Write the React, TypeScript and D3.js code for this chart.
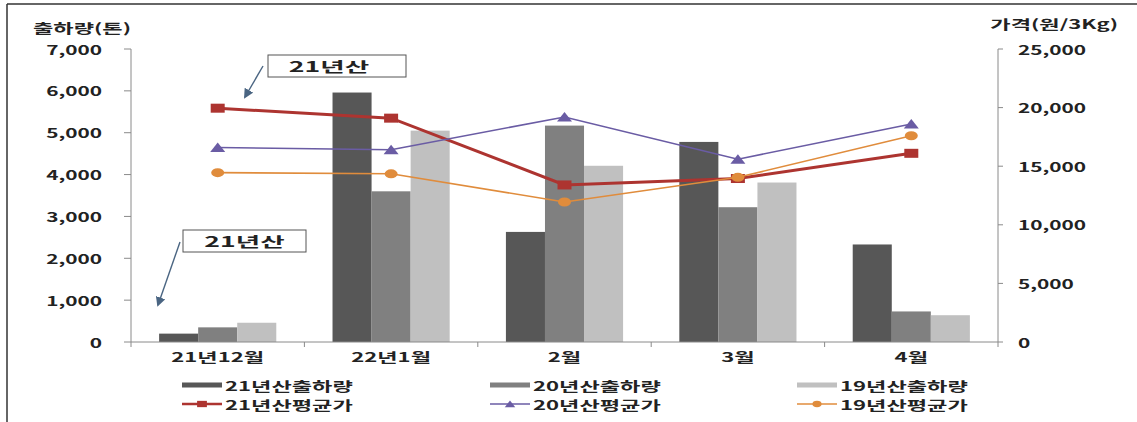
import React from "react";
import * as d3 from "d3";

const categories = ["21년12월", "22년1월", "2월", "3월", "4월"];
const ship21 = [200, 5960, 2630, 4780, 2330];
const ship20 = [350, 3600, 5170, 3220, 730];
const ship19 = [460, 5050, 4210, 3810, 640];
const price21 = [19950, 19100, 13400, 13950, 16100];
const price20 = [16600, 16400, 19200, 15600, 18600];
const price19 = [14450, 14350, 11950, 14050, 17600];
const leftTicks = [0, 1000, 2000, 3000, 4000, 5000, 6000, 7000];
const rightTicks = [0, 5000, 10000, 15000, 20000, 25000];
const barSeries = ["21년산출하량", "20년산출하량", "19년산출하량"];
const lineSeries = ["21년산평균가", "20년산평균가", "19년산평균가"];

const W = 1137;
const H = 422;
const FONT = "'Noto Sans CJK KR', 'Noto Sans', sans-serif";
const barColors = ["#575757", "#808080", "#c0c0c0"];
const lineColors = ["#ad3430", "#6a5ca4", "#e08c3c"];
const lineWidths = [3, 1.6, 1.6];

function T({ x, y, children, anchor = "start", size = 13, sx = 1.7, fill = "#222" }: any) {
  return (
    <text
      transform={`translate(${x},${y}) scale(${sx},1)`}
      textAnchor={anchor}
      dominantBaseline="central"
      fontSize={size}
      fontWeight={700}
      fill={fill}
      fontFamily={FONT}
    >
      {children}
    </text>
  );
}

function Marker({ kind, x, y, color, s = 1 }: any) {
  if (kind === 0) return <rect x={x - 7 * s} y={y - 4.5 * s} width={14 * s} height={9 * s} fill={color} />;
  if (kind === 1)
    return <path d={`M${x - 7.5 * s},${y + 4.5 * s}L${x + 7.5 * s},${y + 4.5 * s}L${x},${y - 5 * s}Z`} fill={color} />;
  return <ellipse cx={x} cy={y} rx={6.5 * s} ry={4.5 * s} fill={color} />;
}

export default function App() {
  const xL = 131, xR = 998, yB = 342, yT = 49;
  const x = d3.scaleBand<string>().domain(categories).range([xL, xR]).padding(0);
  const xs = d3.scaleBand<string>().domain(barSeries).range([0, x.bandwidth()]).paddingInner(0).paddingOuter(0.72);
  const yL = d3.scaleLinear().domain([0, 7000]).range([yB, yT]);
  const yR = d3.scaleLinear().domain([0, 25000]).range([yB, yT]);
  const fmt = d3.format(",");
  const ships = [ship21, ship20, ship19];
  const prices = [price21, price20, price19];
  const cx = (c: string) => (x(c) as number) + x.bandwidth() / 2;

  const legendCols = [182, 490, 797];
  const legendRows = [385, 404];

  return (
    <div style={{ position: "absolute", left: 0, top: 0 }}>
      <svg width={W} height={H} style={{ display: "block", background: "#fff" }}>
        <defs>
          <marker id="ah" viewBox="0 0 10 10" refX="8" refY="5" markerWidth="7" markerHeight="7" orient="auto">
            <path d="M0,0L10,5L0,10Z" fill="#4a6582" />
          </marker>
        </defs>
        {/* frame */}
        <line x1={7} y1={4} x2={W} y2={4} stroke="#333" strokeWidth={1.5} />
        <line x1={7} y1={4} x2={7} y2={H} stroke="#333" strokeWidth={1.5} />

        {/* bars */}
        {ships.map((arr, si) =>
          categories.map((c, ci) => (
            <rect
              key={`b${si}-${ci}`}
              x={(x(c) as number) + (xs(barSeries[si]) as number)}
              y={yL(arr[ci])}
              width={xs.bandwidth()}
              height={yB - yL(arr[ci])}
              fill={barColors[si]}
            />
          ))
        )}

        {/* axes */}
        <line x1={xL} y1={yT} x2={xL} y2={yB} stroke="#8a8a8a" strokeWidth={1} />
        <line x1={xR} y1={yT} x2={xR} y2={yB} stroke="#8a8a8a" strokeWidth={1} />
        <line x1={xL} y1={yB} x2={xR} y2={yB} stroke="#8a8a8a" strokeWidth={1} />
        {leftTicks.map((t) => (
          <g key={`lt${t}`}>
            <line x1={xL - 7} x2={xL} y1={yL(t)} y2={yL(t)} stroke="#8a8a8a" />
            <T x={102} y={yL(t)} anchor="end" sx={1.6}>{fmt(t)}</T>
          </g>
        ))}
        {rightTicks.map((t) => (
          <g key={`rt${t}`}>
            <line x1={xR} x2={xR + 5} y1={yR(t)} y2={yR(t)} stroke="#8a8a8a" />
            <T x={1018} y={yR(t)} sx={1.6}>{fmt(t)}</T>
          </g>
        ))}
        {categories.map((c) => (
          <g key={`xc${c}`}>
            <line x1={x(c) as number} x2={x(c) as number} y1={yB} y2={yB + 5} stroke="#8a8a8a" />
            <T x={cx(c)} y={356} anchor="middle">{c}</T>
          </g>
        ))}
        <line x1={xR} x2={xR} y1={yB} y2={yB + 5} stroke="#8a8a8a" />

        {/* axis titles */}
        <T x={33} y={27}>출하량(톤)</T>
        <T x={1118} y={23} anchor="end">가격(원/3Kg)</T>

        {/* lines */}
        {prices.map((arr, si) => {
          const line = d3
            .line<number>()
            .x((_, i) => cx(categories[i]))
            .y((v) => yR(v));
          return (
            <g key={`l${si}`}>
              <path d={line(arr) as string} fill="none" stroke={lineColors[si]} strokeWidth={lineWidths[si]} />
              {arr.map((v, i) => (
                <Marker key={i} kind={si} x={cx(categories[i])} y={yR(v)} color={lineColors[si]} />
              ))}
            </g>
          );
        })}

        {/* annotations */}
        <rect x={268} y={55} width={138} height={22} fill="#fff" stroke="#555" strokeWidth={1} />
        <T x={329} y={66} anchor="middle" sx={1.9} size={14}>21년산</T>
        <line x1={263} y1={66} x2={245} y2={97} stroke="#4a6582" strokeWidth={1.4} markerEnd="url(#ah)" />
        <rect x={183} y={230} width={123} height={22} fill="#fff" stroke="#555" strokeWidth={1} />
        <T x={244.5} y={241} anchor="middle" sx={1.9} size={14}>21년산</T>
        <line x1={180} y1={242} x2={158} y2={305} stroke="#4a6582" strokeWidth={1.4} markerEnd="url(#ah)" />

        {/* legend */}
        {barSeries.map((s, i) => (
          <g key={`lg${s}`}>
            <line x1={legendCols[i]} x2={legendCols[i] + 40} y1={legendRows[0]} y2={legendRows[0]} stroke={barColors[i]} strokeWidth={5} />
            <T x={legendCols[i] + 43} y={legendRows[0]}>{s}</T>
          </g>
        ))}
        {lineSeries.map((s, i) => (
          <g key={`ll${s}`}>
            <line x1={legendCols[i]} x2={legendCols[i] + 40} y1={legendRows[1]} y2={legendRows[1]} stroke={lineColors[i]} strokeWidth={i === 0 ? 2.5 : 1.6} />
            <Marker kind={i} x={legendCols[i] + 20} y={legendRows[1]} color={lineColors[i]} s={0.7} />
            <T x={legendCols[i] + 43} y={legendRows[1]}>{s}</T>
          </g>
        ))}
      </svg>
    </div>
  );
}
